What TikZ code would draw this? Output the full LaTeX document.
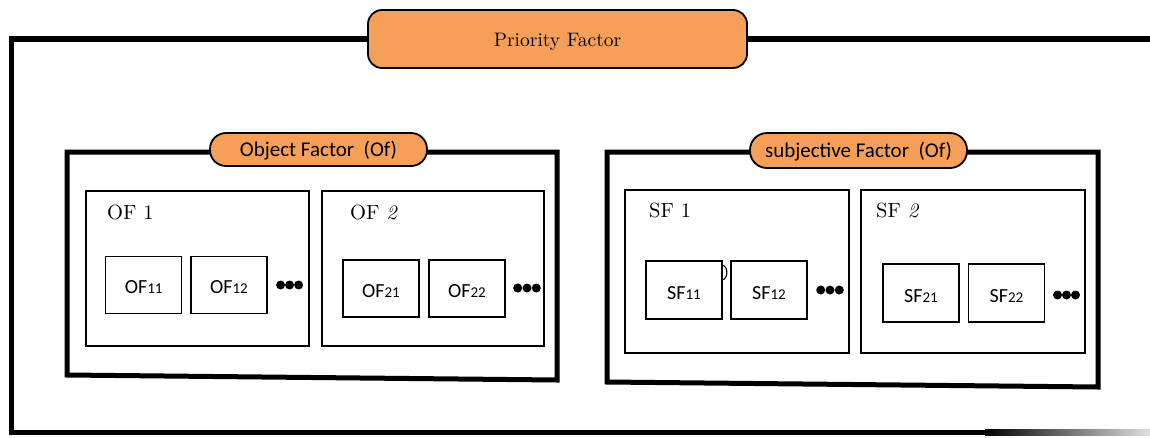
\documentclass[tikz,border=0pt]{standalone}
\usepackage{fontspec}
\setmainfont{lmroman10-regular.otf}[ItalicFont=lmroman10-italic.otf]
\newfontfamily\calfont{Carlito}
\definecolor{taborange}{RGB}{245,159,88}
\begin{document}
\begin{tikzpicture}[x=1pt,y=-1pt,
  tabbox/.style={draw=black, line width=1.8pt, fill=taborange, inner sep=0pt,
    text height=14pt, text depth=0pt, font=\calfont\fontsize{21}{21}\selectfont},
  frameline/.style={draw=black, line width=5pt, line join=miter},
  groupbox/.style={draw=black, line width=1.4pt, inner sep=0pt},
  itembox/.style={draw=black, line width=1.4pt, inner sep=0pt,
    minimum width=76pt, minimum height=57pt, text height=18pt, text depth=0pt,
    font=\calfont\fontsize{20}{20}\selectfont},
  grouplabel/.style={anchor=base west, inner sep=0pt, font=\fontsize{20.5}{20.5}\selectfont},
  dotmark/.style={fill=black, draw=none, circle, minimum size=9pt, inner sep=0pt}
]
\useasboundingbox (0,0) rectangle (1150,437);
\newcommand{\sbs}[1]{{\fontsize{15}{15}\selectfont #1}}

% outer frame
\coordinate (otr) at (1150,39);
\coordinate (otl) at (11.5,39);
\coordinate (obl) at (11.5,432.5);
\coordinate (obm) at (985,432.5);
\draw[frameline, line width=5.5pt] (otr) -- (otl) -- (obl) -- (obm);
\shade[left color=black, right color=black!12] (985,429.75) rectangle (1150,435.25);

% priority factor tab
\node[tabbox, rounded corners=14pt, minimum width=379pt, minimum height=58pt,
  font=\fontsize{19.5}{19.5}\selectfont] (prio) at (557.5,39) {Priority Factor};

% object factor frame
\coordinate (oa) at (67,152);
\coordinate (ob) at (557,152);
\coordinate (oc) at (557,380);
\coordinate (od) at (67,375);
\draw[frameline] (oa) -- (ob) -- (oc) -- (od) -- cycle;
\node[tabbox, rounded corners=16pt, minimum width=217pt, minimum height=33pt] (otab) at (318.5,149.5) {Object Factor\ \ (Of)};

% subjective factor frame
\coordinate (sa) at (607,152);
\coordinate (sb) at (1098,152);
\coordinate (sc) at (1098,387);
\coordinate (sd) at (607,382);
\draw[frameline] (sa) -- (sb) -- (sc) -- (sd) -- cycle;
\node[tabbox, rounded corners=17pt, minimum width=217pt, minimum height=35pt] (stab) at (858.5,150.5) {subjective Factor\ \ (Of)};

% OF groups
\node[groupbox, minimum width=223pt, minimum height=155pt] (of1) at (197.5,268.3) {};
\node[grouplabel] (of1l) at (107,219) {OF 1};
\node[groupbox, minimum width=222pt, minimum height=155pt] (of2) at (433,268.3) {};
\node[grouplabel] (of2l) at (350,219) {OF \textit{2}};

\node[itembox] (of11) at (143.7,284.9) {OF\sbs{11}};
\node[itembox] (of12) at (229,284.9) {OF\sbs{12}};
\node[dotmark] (d11) at (280.6,285) {};
\node[dotmark] (d12) at (289.6,285) {};
\node[dotmark] (d13) at (298.6,285) {};

\node[itembox] (of21) at (381,288.5) {OF\sbs{21}};
\node[itembox] (of22) at (467,288.5) {OF\sbs{22}};
\node[dotmark] (d21) at (517.7,288) {};
\node[dotmark] (d22) at (527,288) {};
\node[dotmark] (d23) at (536.3,288) {};

% SF groups
\node[groupbox, minimum width=224pt, minimum height=163pt] (sf1) at (737,271.5) {};
\node[grouplabel] (sf1l) at (649,217) {SF 1};
\node[groupbox, minimum width=224pt, minimum height=163pt] (sf2) at (973,271.5) {};
\node[grouplabel] (sf2l) at (876,217) {SF \textit{2}};

\node[itembox, minimum height=58pt] (sf11) at (684,290) {SF\sbs{11}};
\node[itembox, minimum height=58pt] (sf12) at (769,290) {SF\sbs{12}};
\node[dotmark] (e11) at (820.7,290) {};
\node[dotmark] (e12) at (830,290) {};
\node[dotmark] (e13) at (839.3,290) {};
\draw[line width=1.1pt] (722,265) .. controls (728.5,266) and (728.5,279) .. (722,280);

\node[itembox, minimum height=58pt] (sf21) at (921,293) {SF\sbs{21}};
\node[itembox, minimum height=58pt] (sf22) at (1006.5,293) {SF\sbs{22}};
\node[dotmark] (e21) at (1057.5,295) {};
\node[dotmark] (e22) at (1066.5,295) {};
\node[dotmark] (e23) at (1075.5,295) {};
\end{tikzpicture}
\end{document}
